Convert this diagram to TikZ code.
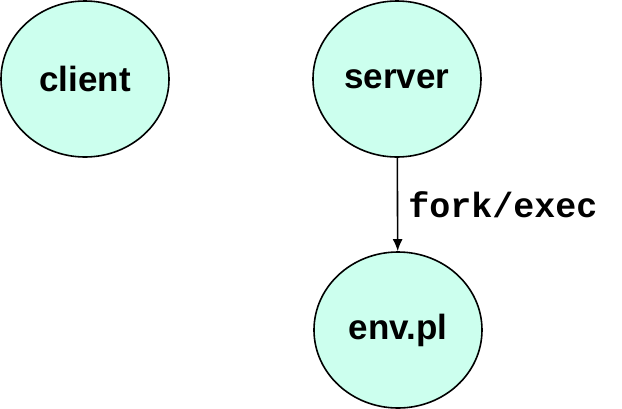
\documentclass[tikz,border=0pt]{standalone}
\usepackage{fontspec}
\setmainfont{Liberation Sans}
\newfontfamily\codefont{Liberation Mono}
\usetikzlibrary{shapes.geometric,arrows.meta}
\definecolor{procfill}{RGB}{204,255,238}
\begin{document}
\begin{tikzpicture}[
    x=0.5pt, y=-0.5pt,
    proc/.style={ellipse, draw=black, thick, fill=procfill, minimum width=84pt, minimum height=78pt, inner sep=0pt, font=\fontsize{17.5}{20}\selectfont\bfseries},
    myarrow/.style={-{Latex[length=6pt,width=5pt]}, thick},
]
\useasboundingbox (0,0) rectangle (622,408);
% Processes
\node[proc] (client) at (85,79) {client};
\node[proc] (server) at (397,79) {server};
\node[proc] (env) at (398,330) {env.pl};

% fork and exec
\draw[myarrow] (server) -- (env);
\node[anchor=west, inner sep=0pt, font=\codefont\fontsize{17.5}{20}\selectfont\bfseries] (forklbl) at (408,205) {fork/exec};
\end{tikzpicture}
\end{document}
